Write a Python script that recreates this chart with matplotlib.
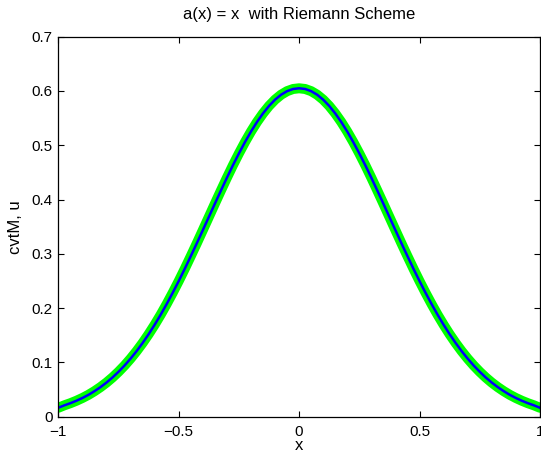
import numpy as np
import matplotlib.pyplot as plt

plt.rcParams['font.family'] = ['Liberation Sans', 'DejaVu Sans']

# values (symmetric bump about x = 0), step 0.025
x_vals = [-1.000, -0.975, -0.950, -0.925, -0.900, -0.875, -0.850, -0.825, -0.800, -0.775,
          -0.750, -0.725, -0.700, -0.675, -0.650, -0.625, -0.600, -0.575, -0.550, -0.525,
          -0.500, -0.475, -0.450, -0.425, -0.400, -0.375, -0.350, -0.325, -0.300, -0.275,
          -0.250, -0.225, -0.200, -0.175, -0.150, -0.125, -0.100, -0.075, -0.050, -0.025,
          0.000,
          0.025, 0.050, 0.075, 0.100, 0.125, 0.150, 0.175, 0.200, 0.225, 0.250,
          0.275, 0.300, 0.325, 0.350, 0.375, 0.400, 0.425, 0.450, 0.475, 0.500,
          0.525, 0.550, 0.575, 0.600, 0.625, 0.650, 0.675, 0.700, 0.725, 0.750,
          0.775, 0.800, 0.825, 0.850, 0.875, 0.900, 0.925, 0.950, 0.975, 1.000]
u_vals = [0.0165, 0.0210, 0.0249, 0.0294, 0.0345, 0.0403, 0.0470, 0.0545, 0.0629, 0.0723,
          0.0828, 0.0943, 0.1070, 0.1208, 0.1358, 0.1520, 0.1694, 0.1879, 0.2076, 0.2283,
          0.2499, 0.2724, 0.2957, 0.3194, 0.3436, 0.3679, 0.3923, 0.4164, 0.4401, 0.4631,
          0.4850, 0.5058, 0.5252, 0.5429, 0.5587, 0.5725, 0.5840, 0.5931, 0.5997, 0.6037,
          0.6050,
          0.6037, 0.5997, 0.5931, 0.5840, 0.5725, 0.5587, 0.5429, 0.5252, 0.5058, 0.4850,
          0.4631, 0.4401, 0.4164, 0.3923, 0.3679, 0.3436, 0.3194, 0.2957, 0.2724, 0.2499,
          0.2283, 0.2076, 0.1879, 0.1694, 0.1520, 0.1358, 0.1208, 0.1070, 0.0943, 0.0828,
          0.0723, 0.0629, 0.0545, 0.0470, 0.0403, 0.0345, 0.0294, 0.0249, 0.0210, 0.0165]
cvtM_vals = list(u_vals)

x_ticks = [-1, -0.5, 0, 0.5, 1]
x_tick_labels = ['\u22121', '\u22120.5', '0', '0.5', '1']
y_ticks = [0, 0.1, 0.2, 0.3, 0.4, 0.5, 0.6, 0.7]
y_tick_labels = ['0', '0.1', '0.2', '0.3', '0.4', '0.5', '0.6', '0.7']

fig = plt.figure(figsize=(5.41, 4.51), dpi=100)
ax = fig.add_axes([0.1078, 0.076, 0.8902, 0.8426])

ax.plot(x_vals, cvtM_vals, color='#00ff00', linewidth=7.2,
        solid_capstyle='round', solid_joinstyle='round')
ax.plot(x_vals, u_vals, color='#0000ff', linewidth=1.8)

ax.set_xlim(-1, 1)
ax.set_ylim(0, 0.7)
ax.set_xticks(x_ticks)
ax.set_xticklabels(x_tick_labels)
ax.set_yticks(y_ticks)
ax.set_yticklabels(y_tick_labels)
ax.tick_params(direction='in', top=True, right=True, length=4, width=0.8,
               labelsize=11)
ax.tick_params(axis='x', pad=6)
ax.tick_params(axis='y', pad=4)
for s in ax.spines.values():
    s.set_linewidth(0.9)

ax.set_title('a(x) = x  with Riemann Scheme', fontsize=12, pad=13)
ax.set_xlabel('x', fontsize=12, labelpad=-1)
ax.set_ylabel('cvtM, u', fontsize=12, labelpad=6)

fig.savefig('out.png', dpi=100)
